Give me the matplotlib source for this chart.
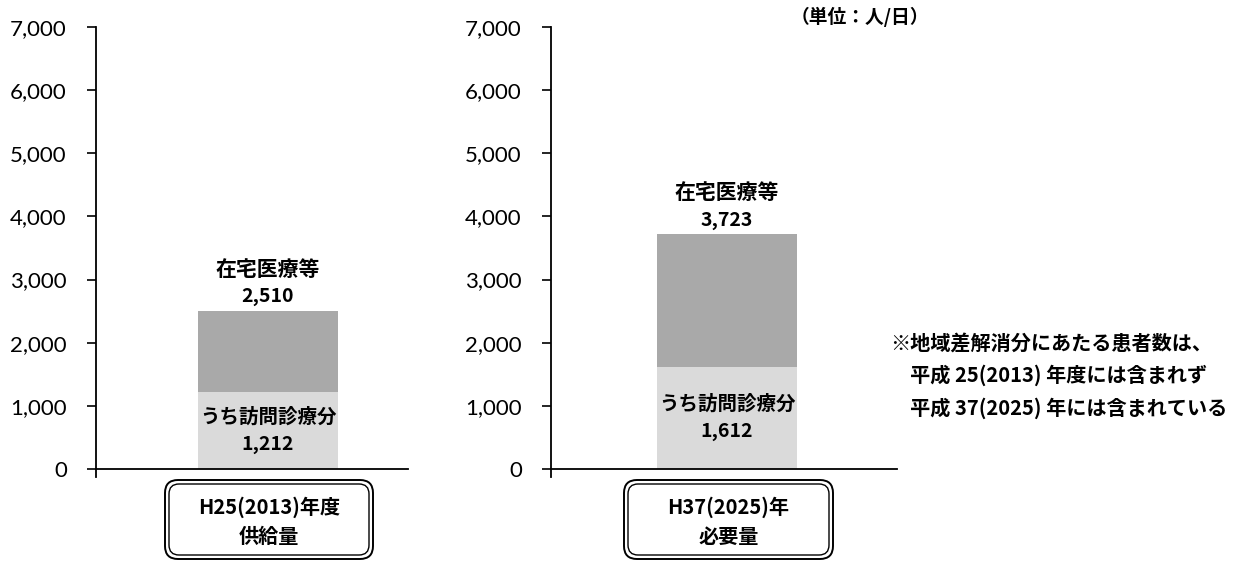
import matplotlib.pyplot as plt
from matplotlib.patches import FancyBboxPatch
from matplotlib.ticker import FuncFormatter

plt.rcParams["font.family"] = ["Noto Sans CJK JP", "DejaVu Sans"]

# data
panel_titles = [["H25(2013)年度", "供給量"], ["H37(2025)年", "必要量"]]
totals = [2510, 3723]
visits = [1212, 1612]
total_label = "在宅医療等"
visit_label = "うち訪問診療分"
y_ticks = [0, 1000, 2000, 3000, 4000, 5000, 6000, 7000]
unit_text = "（単位：人/日）"
note_lines = [
    "※地域差解消分にあたる患者数は、",
    "　平成 25(2013) 年度には含まれず",
    "　平成 37(2025) 年には含まれている",
]

W, H = 1235, 561
fig = plt.figure(figsize=(W / 100, H / 100), dpi=100)

# panel layout in pixels: axis x, axis right end, bar centre
panels = [(96, 408, 268), (551, 897, 727)]
bar_px = 140
y_top_px, y_zero_px = 27, 469
ymin = -120
px_per_unit = (y_zero_px - y_top_px) / 7000
y_bot_px = y_zero_px - ymin * px_per_unit

upper_color = "#a9a9a9"
lower_color = "#dadada"

for i, (x0, x1, xc) in enumerate(panels):
    ax = fig.add_axes([x0 / W, 1 - y_bot_px / H, (x1 - x0) / W, (y_bot_px - y_top_px) / H])
    ax.set_xlim((x0 - xc) / bar_px, (x1 - xc) / bar_px)
    ax.set_ylim(ymin, 7000)
    ax.bar(0, visits[i], width=1, color=lower_color, zorder=2)
    ax.bar(0, totals[i] - visits[i], bottom=visits[i], width=1, color=upper_color, zorder=2)

    ax.annotate(f"{totals[i]:,}", (0, totals[i]), xytext=(0, 10), textcoords="offset points",
                ha="center", va="center", fontsize=14, fontweight="bold")
    ax.annotate(total_label, (0, totals[i]), xytext=(0, 29.5), textcoords="offset points",
                ha="center", va="center", fontsize=15, fontweight="bold")
    mid = visits[i] / 2
    ax.annotate(visit_label, (0, mid), xytext=(0, 10), textcoords="offset points",
                ha="center", va="center", fontsize=14, fontweight="bold")
    ax.annotate(f"{visits[i]:,}", (0, mid), xytext=(0, -10), textcoords="offset points",
                ha="center", va="center", fontsize=14, fontweight="bold")

    for s in ["top", "right"]:
        ax.spines[s].set_visible(False)
    ax.spines["bottom"].set_position(("data", 0))
    ax.spines["left"].set_linewidth(1.3)
    ax.spines["bottom"].set_linewidth(1.3)
    ax.set_xticks([])
    ax.set_yticks(y_ticks)
    ax.yaxis.set_major_formatter(FuncFormatter(lambda v, p: f"{int(v):,}"))
    ax.tick_params(axis="y", length=6.5, width=1.2, pad=14.5, labelsize=16)
    for lab in ax.get_yticklabels():
        lab.set_family("Lato")

# overlay in pixel coordinates for boxes and notes
ov = fig.add_axes([0, 0, 1, 1])
ov.set_xlim(0, W)
ov.set_ylim(H, 0)
ov.axis("off")

boxes = [(165, 373), (624, 833)]
box_top, box_bot = 480, 559
for (bx0, bx1), lines in zip(boxes, panel_titles):
    ov.add_patch(FancyBboxPatch((bx0, box_top), bx1 - bx0, box_bot - box_top,
                                boxstyle="round,pad=0,rounding_size=13",
                                fc="white", ec="black", lw=1.4))
    ov.add_patch(FancyBboxPatch((bx0 + 4, box_top + 4), bx1 - bx0 - 8, box_bot - box_top - 8,
                                boxstyle="round,pad=0,rounding_size=10",
                                fc="none", ec="black", lw=1.0))
    cx = (bx0 + bx1) / 2
    ov.text(cx, 507, lines[0], ha="center", va="center", fontsize=14.5, fontweight="bold")
    ov.text(cx, 536, lines[1], ha="center", va="center", fontsize=14.5, fontweight="bold")

ov.text(860, 17, unit_text, ha="center", va="center", fontsize=13.5, fontweight="bold")
for k, line in enumerate(note_lines):
    ov.text(890, 343 + k * 32.5, line, ha="left", va="center", fontsize=14.5, fontweight="bold")

fig.savefig("out.png", dpi=100)
